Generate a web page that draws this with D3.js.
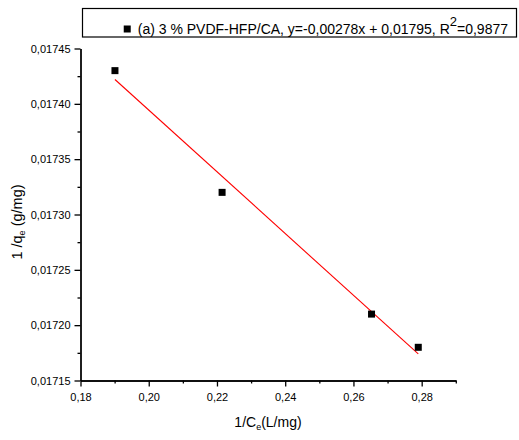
<!DOCTYPE html>
<html>
<head>
<meta charset="utf-8">
<script src="https://cdn.jsdelivr.net/npm/d3@7"></script>
<style>
    body { margin: 0; background: #fff; }
    text { font-family: "Liberation Sans", Arial, sans-serif; fill: #000; }
</style>
</head>
<body>
<div id="chart"></div>
<script>
(function() {

    var width = 519;
    var height = 440;

    // measured points
    var ceInv = [0.1901, 0.2215, 0.2653, 0.2790];
    var qeInv = [0.01743, 0.01732, 0.01721, 0.01718];

    // linear fit ends, as drawn
    var fitX = [0.1901, 0.2790];
    var fitY = [0.017422, 0.017174];

    var xTicks = [0.18, 0.20, 0.22, 0.24, 0.26, 0.28];
    var xMinor = [0.19, 0.21, 0.23, 0.25, 0.27, 0.29];
    var yTicks = [0.01715, 0.01720, 0.01725, 0.01730, 0.01735, 0.01740, 0.01745];
    var yMinor = [0.017175, 0.017225, 0.017275, 0.017325, 0.017375, 0.017425];

    var legendLabel = "(a) 3 % PVDF-HFP/CA, y=-0,00278x + 0,01795, R";

    var svg = d3.select("#chart")
        .append("svg")
        .attr("width", width)
        .attr("height", height);

    var x = d3.scaleLinear().domain([0.18, 0.29]).range([80.5, 455.8]);
    var y = d3.scaleLinear().domain([0.01715, 0.01745]).range([380.5, 48.5]);

    var comma = d => d3.format(".2f")(d).replace(".", ",");
    var comma5 = d => d3.format(".5f")(d).replace(".", ",");

    var xAxis = svg.append("g")
        .attr("transform", "translate(0," + y(0.01715) + ")")
        .call(d3.axisBottom(x).tickValues(xTicks).tickFormat(comma).tickSize(6).tickPadding(7).tickSizeOuter(0));

    svg.append("g")
        .attr("transform", "translate(0," + y(0.01715) + ")")
        .call(d3.axisBottom(x).tickValues(xMinor).tickFormat("").tickSize(3).tickSizeOuter(0));

    var yAxis = svg.append("g")
        .attr("transform", "translate(" + x(0.18) + ",0)")
        .call(d3.axisLeft(y).tickValues(yTicks).tickFormat(comma5).tickSize(6).tickPadding(4).tickSizeOuter(0));

    svg.append("g")
        .attr("transform", "translate(" + x(0.18) + ",0)")
        .call(d3.axisLeft(y).tickValues(yMinor).tickFormat("").tickSize(3).tickSizeOuter(0));

    svg.selectAll(".domain, .tick line")
        .attr("stroke", "#000")
        .attr("stroke-width", 1.3);

    svg.selectAll(".tick text")
        .attr("font-size", 11)
        .style("font-family", "'Liberation Sans', Arial, sans-serif");

    // fit line
    svg.append("line")
        .attr("x1", x(fitX[0]))
        .attr("y1", y(fitY[0]))
        .attr("x2", x(fitX[1]))
        .attr("y2", y(fitY[1]))
        .attr("stroke", "#ff0000")
        .attr("stroke-width", 1.1);

    svg.selectAll("rect.pt")
        .data(ceInv)
        .enter().append("rect")
        .attr("class", "pt")
        .attr("x", d => x(d) - 3.5)
        .attr("y", (d, i) => y(qeInv[i]) - 3.5)
        .attr("width", 7)
        .attr("height", 7)
        .attr("fill", "#000");

    // axis titles
    var xt = svg.append("text")
        .attr("x", 268)
        .attr("y", 427)
        .attr("text-anchor", "middle")
        .attr("font-size", 14);
    xt.append("tspan").text("1/C");
    xt.append("tspan").attr("font-size", 9).attr("dy", 3).text("e");
    xt.append("tspan").attr("dy", -3).text("(L/mg)");

    var yt = svg.append("text")
        .attr("transform", "translate(22,222) rotate(-90)")
        .attr("text-anchor", "middle")
        .attr("font-size", 14.5);
    yt.append("tspan").text("1 /q");
    yt.append("tspan").attr("font-size", 9).attr("dy", 3).text("e");
    yt.append("tspan").attr("dy", -3).text(" (g/mg)");

    // legend
    var legend = svg.append("g");
    legend.append("rect")
        .attr("x", 82.5)
        .attr("y", 8.5)
        .attr("width", 434)
        .attr("height", 28.5)
        .attr("fill", "#fff")
        .attr("stroke", "#000")
        .attr("stroke-width", 1.2);

    var lt = legend.append("text")
        .attr("x", 508)
        .attr("y", 33.5)
        .attr("text-anchor", "end")
        .attr("font-size", 14);
    lt.append("tspan").text(legendLabel);
    lt.append("tspan").attr("font-size", 13).attr("dy", -8).text("2");
    lt.append("tspan").attr("dy", 8).text("=0,9877");

    var tb = lt.node().getBBox();
    legend.append("rect")
        .attr("x", tb.x - 14)
        .attr("y", 25.5)
        .attr("width", 7)
        .attr("height", 7)
        .attr("fill", "#000");

})();
</script>
</body>
</html>
